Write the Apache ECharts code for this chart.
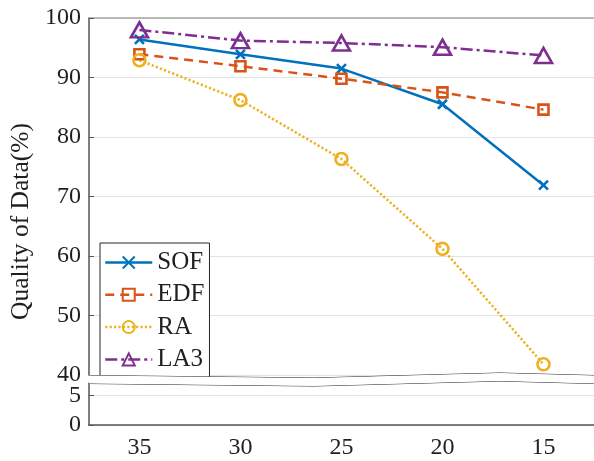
<!DOCTYPE html>
<html>
<head>
<meta charset="utf-8">
<script src="https://cdn.jsdelivr.net/npm/echarts@6/dist/echarts.min.js"></script>
<style>
  html, body { margin: 0; padding: 0; background: #fff; }
  #chart { width: 594px; height: 461px; }
</style>
</head>
<body>
<div id="chart"></div>
<script>
// Buffer size on the x axis, from largest to smallest
const categories = ['35', '30', '25', '20', '15'];

// Quality of data (%) per method
const sofValues = [96.4, 93.9, 91.5, 85.5, 71.9];
const edfValues = [93.9, 91.9, 89.8, 87.5, 84.6];
const raValues  = [92.9, 86.2, 76.3, 61.2, 41.8];
const la3Values = [98.0, 96.2, 95.8, 95.1, 93.7];

// Y ticks on both sides of the axis break
const yTicks = [0, 5, 40, 50, 60, 70, 80, 90, 100];

const FONT = "'Liberation Serif', 'Times New Roman', serif";
const TEXT = '#1f1f1f';
const AXIS = '#555555';

const crossPath = 'path://M0,0L10,10M0,10L10,0';

function lineSeries(name, data, color, symbol, size, dash) {
  return {
    name: name,
    type: 'line',
    data: data,
    color: color,
    symbol: symbol,
    symbolSize: size,
    showSymbol: true,
    lineStyle: { color: color, width: 2.5, type: dash },
    itemStyle: { color: 'transparent', borderColor: color, borderWidth: 2.6 },
    emphasis: { disabled: true },
    z: 3
  };
}

const chart = echarts.init(document.getElementById('chart'), null, { renderer: 'canvas' });

chart.setOption({
  animation: false,
  backgroundColor: '#fff',
  grid: { left: 87, top: 18, width: 515, height: 407 },
  legend: {
    orient: 'vertical',
    left: 100,
    top: 243,
    padding: [7, 5, 7, 4],
    itemWidth: 47,
    itemHeight: 15,
    itemGap: 7.3,
    backgroundColor: '#fff',
    borderColor: '#262626',
    borderWidth: 1,
    borderRadius: 0,
    lineStyle: { width: 2.5 },
    textStyle: { fontFamily: FONT, fontSize: 25, color: TEXT, lineHeight: 22 },
    selectedMode: false
  },
  xAxis: [
    {
      type: 'category',
      data: categories,
      boundaryGap: true,
      position: 'bottom',
      axisLine: { lineStyle: { color: AXIS, width: 1.5 } },
      axisTick: { inside: true, length: 5, alignWithLabel: true, lineStyle: { color: AXIS } },
      axisLabel: { fontFamily: FONT, fontSize: 24, color: TEXT, margin: 11 },
      splitLine: { show: false }
    },
    {
      type: 'category',
      data: categories,
      boundaryGap: true,
      position: 'top',
      axisLine: { lineStyle: { color: '#a6a6a6', width: 1.5 } },
      axisTick: { inside: true, length: 5, alignWithLabel: true, lineStyle: { color: AXIS } },
      axisLabel: { show: false },
      splitLine: { show: false }
    }
  ],
  yAxis: {
    type: 'value',
    min: 0,
    max: 100,
    breaks: [{ start: 7.1, end: 40, gap: 1.3 }],
    breakArea: {
      show: true,
      expandOnClick: false,
      zigzagAmplitude: 2.5,
      zigzagMinSpan: 160,
      zigzagMaxSpan: 260,
      zigzagZ: 100,
      itemStyle: { color: '#fff', borderColor: '#262626', borderWidth: 1, borderType: 'solid', opacity: 1 }
    },
    axisLine: { show: true, lineStyle: { color: AXIS, width: 1.5 } },
    axisTick: { show: true, inside: true, length: 5, customValues: yTicks, lineStyle: { color: AXIS } },
    axisLabel: { fontFamily: FONT, fontSize: 24, color: TEXT, margin: 8, customValues: yTicks },
    splitLine: { show: true, lineStyle: { color: '#e3e3e3', width: 1 } },
    name: 'Quality of Data(%)',
    nameLocation: 'middle',
    nameGap: 49,
    nameTextStyle: { fontFamily: FONT, fontSize: 25.5, color: TEXT }
  },
  series: [
    lineSeries('SOF', sofValues, '#0072BD', crossPath, 9, 'solid'),
    lineSeries('EDF', edfValues, '#D95319', 'rect', 10, [9, 6]),
    lineSeries('RA', raValues, '#EDB120', 'circle', 12, [2.2, 2.2]),
    lineSeries('LA3', la3Values, '#7E2F8E', 'triangle', [17, 15], [12, 4, 3, 4])
  ]
});
</script>
</body>
</html>
